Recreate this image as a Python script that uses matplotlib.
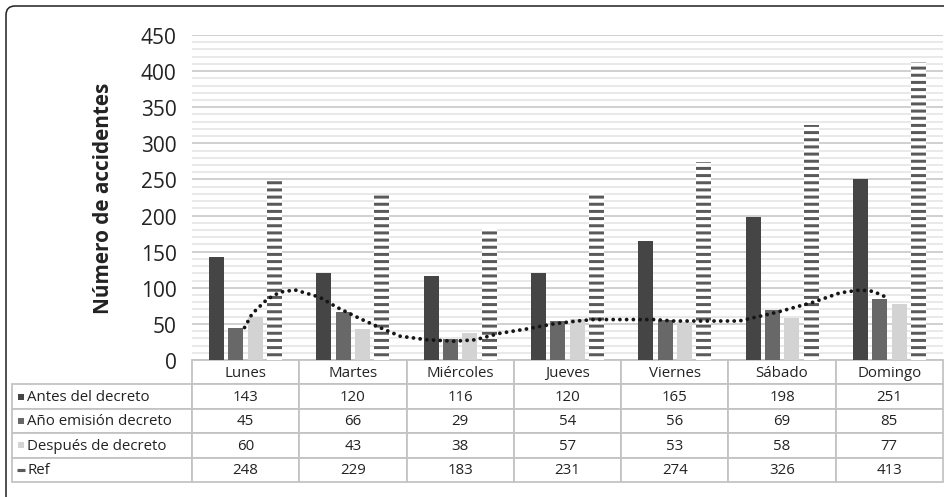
import matplotlib
matplotlib.use('Agg')
import matplotlib.pyplot as plt
import numpy as np
from matplotlib.table import Table
from matplotlib.patches import FancyBboxPatch
from matplotlib.ticker import MultipleLocator
from matplotlib.transforms import IdentityTransform

days = ['Lunes', 'Martes', 'Miércoles', 'Jueves', 'Viernes', 'Sábado', 'Domingo']
series_names = ['Antes del decreto', 'Año emisión decreto', 'Después de decreto', 'Ref']
antes = [143, 120, 116, 120, 165, 198, 251]
anio = [45, 66, 29, 54, 56, 69, 85]
despues = [60, 43, 38, 57, 53, 58, 77]
ref = [248, 229, 183, 231, 274, 326, 413]
y_ticks = [0, 50, 100, 150, 200, 250, 300, 350, 400, 450]

# dotted curve (x in category units)
curve_x = [-0.01, 0.06, 0.2, 0.32, 0.46, 0.69, 0.85, 1.07, 1.25, 1.44, 1.69, 1.94,
           2.14, 2.37, 2.62, 2.87, 3.09, 3.24, 3.8, 3.99, 4.6, 4.95, 5.29, 5.54,
           5.73, 5.85, 5.97]
curve_y = [45, 64, 84, 94, 97, 87, 73, 57, 45, 33, 28, 26, 28, 37, 43, 50, 54, 56,
           56, 54, 54, 66, 80, 93, 97, 95, 87]

colors = ['#454545', '#686868', '#d3d3d3', '#5a5a5a']

DPI = 86
plt.rcParams['font.family'] = ['Open Sans', 'DejaVu Sans']
plt.rcParams['hatch.linewidth'] = 2.5

fig = plt.figure(figsize=(944 / DPI, 498 / DPI), dpi=DPI)
ax = fig.add_axes([192 / 944, 137 / 498, 751 / 944, 325 / 498])

x = np.arange(len(days))
w = 0.14
ax.bar(x - 0.27, antes, w, color=colors[0], zorder=3)
ax.bar(x - 0.09, anio, w, color=colors[1], zorder=3)
ax.bar(x + 0.09, despues, w, color=colors[2], zorder=3)
ax.bar(x + 0.27, ref, w, color='white', edgecolor=colors[3], linewidth=0,
       hatch='--', zorder=3)

ax.plot(curve_x, curve_y, color='#161616', lw=3.2, linestyle=(0, (0.01, 1.75)),
        dash_capstyle='round', zorder=5)

ax.set_xlim(-0.5, 6.5)
ax.set_ylim(0, 450)
ax.set_yticks(y_ticks)
ax.yaxis.set_minor_locator(MultipleLocator(10))
ax.grid(which='major', axis='y', color='#c4c4c4', lw=1.3)
ax.grid(which='minor', axis='y', color='#e3e3e3', lw=1.3)
ax.set_axisbelow(True)
ax.set_xticks([])
ax.tick_params(axis='y', which='both', length=0, pad=13, labelsize=17.5,
               labelcolor='#222222')
for s in ax.spines.values():
    s.set_visible(False)

ax.set_ylabel('Número de accidentes', fontsize=17.4, fontweight='bold', color='#222222')
ax.yaxis.set_label_coords(-0.104, 0.5)

# data table under the chart (sizes in axes units)
edge = '#c3c3c3'
rows = [antes, anio, despues, ref]
tab_h = 122 / 325
row_h = tab_h / 5
col_w = 1 / 7
lab_w = 180 / 751
tbl = Table(ax, bbox=[0, -tab_h, 1, tab_h])
for j, d in enumerate(days):
    tbl.add_cell(0, j, width=col_w, height=row_h, text=d, loc='center',
                 edgecolor=edge, facecolor='white')
for i, (name, vals) in enumerate(zip(series_names, rows)):
    c = tbl.add_cell(i + 1, -1, width=lab_w, height=row_h, text=name, loc='left',
                     edgecolor=edge, facecolor='white')
    c.PAD = 0.085
    for j, v in enumerate(vals):
        tbl.add_cell(i + 1, j, width=col_w, height=row_h, text=str(v), loc='center',
                     edgecolor=edge, facecolor='white')
tbl.auto_set_font_size(False)
tbl.set_fontsize(12.6)
for cell in tbl.get_celld().values():
    cell.set_linewidth(1.5)
    cell.get_text().set_color('#222222')
ax.add_table(tbl)

# legend keys in the row labels
key_x = (20.5 - 192) / 751
for i in range(4):
    ky = -row_h * (i + 1.5)
    if i < 3:
        ax.plot([key_x], [ky], marker='s', ms=5.6, color=colors[i], mew=0,
                transform=ax.transAxes, clip_on=False)
    else:
        ax.plot([key_x], [ky], marker='_', ms=6, mew=2.6, color=colors[i],
                transform=ax.transAxes, clip_on=False)

# outer rounded frame
frame = FancyBboxPatch((6, -30), 980, 521, boxstyle='round,pad=0,rounding_size=9',
                       transform=IdentityTransform(), facecolor='none',
                       edgecolor='#222222', lw=1.3)
fig.add_artist(frame)

fig.savefig('out.png', dpi=DPI)
